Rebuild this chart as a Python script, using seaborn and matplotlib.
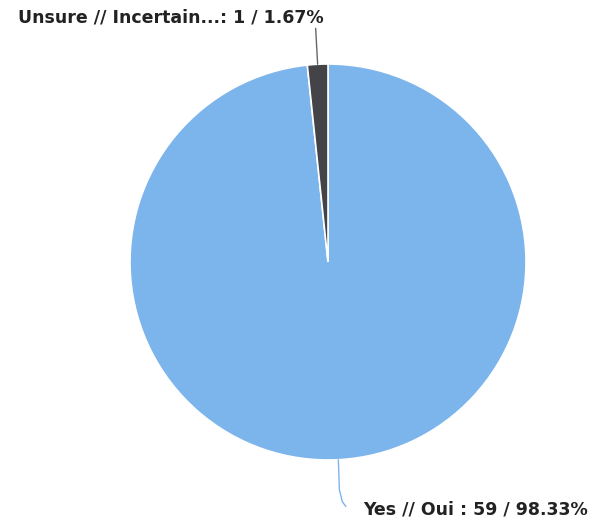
import matplotlib
matplotlib.use("Agg")
import matplotlib.pyplot as plt
import seaborn as sns
import numpy as np

# chart data
labels = ["Yes // Oui", "Unsure // Incertain..."]
counts = [59, 1]
colors = ["#7cb5ec", "#434348"]

sns.set_style("white")
plt.rcParams['font.family'] = ['DejaVu Sans']

fig = plt.figure(figsize=(6.02, 5.23), dpi=100)
ax = fig.add_axes([0, 0, 1, 1])

wedges, _ = ax.pie(counts, colors=colors, startangle=90, counterclock=False,
                   radius=1, wedgeprops=dict(edgecolor="white", linewidth=1.2))

# pixel layout: center (328, 262), radius 198
ax.set_xlim(-328 / 198, (602 - 328) / 198)
ax.set_ylim(-(523 - 262) / 198, 262 / 198)
ax.set_aspect("auto")
ax.axis("off")

total = sum(counts)
pct = [c / total * 100 for c in counts]

# label for the big slice, bottom right
w = wedges[0]
mid = np.deg2rad((w.theta1 + w.theta2) / 2)
x0, y0 = np.cos(mid), np.sin(mid)
ax.plot([x0, x0 + 0.005, x0 + 0.02, 0.09], [y0, -1.15, -1.21, -1.235],
        color=colors[0], lw=1, solid_capstyle="round")
ax.text(0.18, -1.25, f"{labels[0]} : {counts[0]} / {pct[0]:.2f}%",
        ha="left", va="center", fontsize=12.5, fontweight="bold", color="#222222")

# label for the small slice, top left
w = wedges[1]
mid = np.deg2rad((w.theta1 + w.theta2) / 2)
x1, y1 = np.cos(mid), np.sin(mid)
ax.plot([x1, x1 - 0.01], [y1, 1.18], color="#666666", lw=1)
ax.text(-0.02, 1.235, f"{labels[1]}: {counts[1]} / {pct[1]:.2f}%",
        ha="right", va="center", fontsize=12.5, fontweight="bold", color="#222222")

fig.savefig("out.png", dpi=100)
